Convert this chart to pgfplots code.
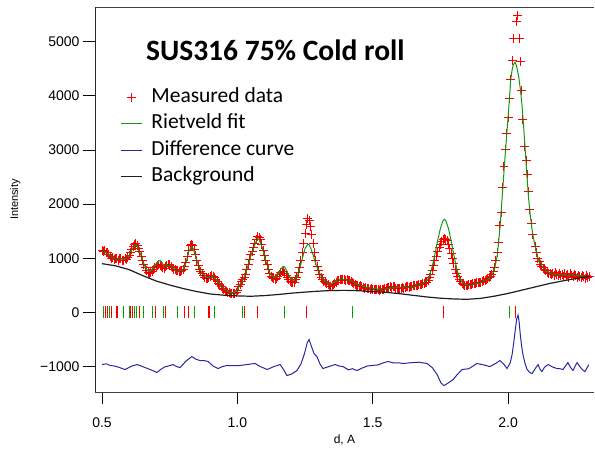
\documentclass[border=0pt]{standalone}
\usepackage{pgfplots}
\pgfplotsset{compat=1.18}
\usepackage{fontspec}
\setmainfont{Liberation Sans}
\newfontfamily\calibri{Carlito}
\definecolor{measred}{RGB}{255,0,0}
\definecolor{fitgreen}{RGB}{20,150,20}
\definecolor{tickgreen}{RGB}{0,170,0}
\definecolor{diffblue}{RGB}{40,40,160}
\definecolor{bgblack}{RGB}{30,30,30}
\begin{document}
\begin{tikzpicture}
\begin{axis}[
  at={(0,0)}, anchor=south west,
  scale only axis, width=499pt, height=385pt,
  xmin=0.474, xmax=2.3175, ymin=-1470, ymax=5640,
  axis x line*=box, axis y line*=left,
  x axis line style={-, line width=0.9pt, black!75},
  y axis line style={-, line width=0.9pt, black!85},
  xtick pos=bottom, ytick pos=left,
  tick align=outside, major tick length=12pt,
  tick style={black, line width=0.9pt},
  xtick={0.5,1.0,1.5,2.0}, xticklabels={0.5,1.0,1.5,2.0},
  ytick={-1000,0,1000,2000,3000,4000,5000},
  yticklabels={−1000,0,1000,2000,3000,4000,5000},
  tick label style={font=\fontsize{14}{16}\selectfont},
  xticklabel style={yshift=-10pt},
  xlabel={d, A}, ylabel={Intensity},
  xlabel style={at={(axis description cs:0.5,-0.125)}, anchor=center, font=\fontsize{12}{14}\selectfont},
  ylabel style={at={(axis description cs:-0.16,0.5)}, anchor=center, font=\fontsize{11}{13}\selectfont},
  legend style={at={(axis description cs:0.044,0.797)}, anchor=north west, draw=none, fill=none,
    font=\calibri\fontsize{21.5}{24}\selectfont, row sep=6.5pt,
    nodes={inner sep=1pt, text height=14pt, text depth=4pt},
    /tikz/every odd column/.append style={column sep=8pt}},
  legend cell align=left,
  legend image code/.code={\draw[#1] (0cm,0cm) -- (0.74cm,0cm);},
]
\addplot[only marks, mark=*, mark size=0.15pt, mark options={line width=0.1pt},
  legend image code/.code={\fill (0.37cm,0cm) circle (0.15pt); \draw[measred, line width=1pt] (0.37cm-4.5pt,0cm)--(0.37cm+4.5pt,0cm) (0.37cm,-4.5pt)--(0.37cm,4.5pt);},
  error bars/.cd, x dir=both, x fixed=0.0166, y dir=both, y fixed=83, error mark=none,
  error bar style={line width=1pt, measred}]
  coordinates {
(0.500,1150)(0.505,1120)(0.510,1140)(0.515,1100)(0.520,1110)(0.525,1060)(0.530,1030)(0.535,1000)(0.540,1010)(0.545,970)
(0.550,990)(0.555,1000)(0.560,960)(0.565,990)(0.570,1000)(0.575,960)(0.580,950)(0.585,990)(0.590,980)(0.595,1010)
(0.600,1050)(0.605,1100)(0.610,1170)(0.615,1220)(0.620,1250)(0.625,1270)(0.630,1230)(0.635,1180)(0.640,1120)(0.645,1040)
(0.650,960)(0.655,880)(0.660,820)(0.665,770)(0.670,740)(0.675,720)(0.680,730)(0.685,760)(0.690,790)(0.695,830)
(0.700,850)(0.705,870)(0.710,880)(0.715,860)(0.720,840)(0.725,820)(0.730,810)(0.735,840)(0.740,860)(0.745,890)
(0.750,880)(0.755,850)(0.760,820)(0.765,800)(0.770,790)(0.775,770)(0.780,770)(0.785,760)(0.790,760)(0.795,770)
(0.800,790)(0.805,840)(0.810,920)(0.815,1030)(0.820,1150)(0.825,1230)(0.830,1260)(0.835,1240)(0.840,1160)(0.845,1060)
(0.850,960)(0.855,870)(0.860,800)(0.865,750)(0.870,720)(0.875,680)(0.880,650)(0.885,630)(0.890,630)(0.895,650)
(0.900,660)(0.905,680)(0.910,670)(0.915,640)(0.920,600)(0.925,570)(0.930,540)(0.935,510)(0.940,480)(0.945,450)
(0.950,430)(0.955,410)(0.960,390)(0.965,370)(0.970,360)(0.975,350)(0.980,345)(0.985,350)(0.990,355)(0.995,370)
(1.000,410)(1.005,470)(1.010,520)(1.015,570)(1.020,600)(1.025,640)(1.030,700)(1.035,790)(1.040,890)(1.045,980)
(1.050,1060)(1.055,1130)(1.060,1200)(1.065,1280)(1.070,1350)(1.075,1400)(1.080,1390)(1.085,1340)(1.090,1250)(1.095,1150)
(1.100,1050)(1.105,960)(1.110,880)(1.115,800)(1.120,720)(1.125,670)(1.130,640)(1.135,620)(1.140,610)(1.145,630)
(1.150,660)(1.155,700)(1.160,740)(1.165,760)(1.170,760)(1.175,720)(1.180,680)(1.185,640)(1.190,600)(1.195,570)
(1.200,550)(1.205,545)(1.210,560)(1.215,600)(1.220,650)(1.225,730)(1.230,830)(1.235,960)(1.240,1100)(1.245,1270)
(1.250,1450)(1.255,1620)(1.260,1740)(1.265,1700)(1.270,1580)(1.275,1440)(1.280,1270)(1.285,1100)(1.290,960)(1.295,850)
(1.300,770)(1.305,700)(1.310,650)(1.315,600)(1.320,570)(1.325,550)(1.330,540)(1.335,510)(1.340,480)(1.345,470)
(1.350,490)(1.355,510)(1.360,530)(1.365,560)(1.370,580)(1.375,590)(1.380,600)(1.385,610)(1.390,600)(1.395,600)
(1.400,590)(1.405,600)(1.410,590)(1.415,580)(1.420,570)(1.425,550)(1.430,530)(1.435,510)(1.440,500)(1.445,490)
(1.450,480)(1.455,490)(1.460,480)(1.465,460)(1.470,450)(1.475,460)(1.480,450)(1.485,440)(1.490,430)(1.495,440)
(1.500,430)(1.505,420)(1.510,430)(1.515,420)(1.520,420)(1.525,410)(1.530,420)(1.535,430)(1.540,420)(1.545,440)
(1.550,450)(1.555,460)(1.560,460)(1.565,470)(1.570,460)(1.575,470)(1.580,470)(1.585,450)(1.590,440)(1.595,440)
(1.600,440)(1.605,450)(1.610,460)(1.615,450)(1.620,460)(1.625,470)(1.630,470)(1.635,460)(1.640,480)(1.645,480)
(1.650,490)(1.655,500)(1.660,500)(1.665,490)(1.670,510)(1.675,510)(1.680,520)(1.685,530)(1.690,540)(1.695,550)
(1.700,560)(1.705,590)(1.710,640)(1.715,700)(1.720,780)(1.725,860)(1.730,950)(1.735,1040)(1.740,1130)(1.745,1200)
(1.750,1260)(1.755,1310)(1.760,1340)(1.765,1370)(1.770,1350)(1.775,1320)(1.780,1250)(1.785,1180)(1.790,1090)(1.795,1000)
(1.800,900)(1.805,800)(1.810,720)(1.815,660)(1.820,610)(1.825,570)(1.830,540)(1.835,520)(1.840,500)(1.845,490)
(1.850,500)(1.855,510)(1.860,520)(1.865,520)(1.870,530)(1.875,530)(1.880,540)(1.885,550)(1.890,550)(1.895,560)
(1.900,560)(1.905,570)(1.910,580)(1.915,590)(1.920,610)(1.925,620)(1.930,640)(1.935,660)(1.940,700)(1.945,760)
(1.950,830)(1.955,950)(1.960,1100)(1.965,1300)(1.970,1600)(1.975,1850)(1.980,2300)(1.985,2700)(1.990,3000)(1.995,3300)
(2.000,3600)(2.004,3950)(2.009,4300)(2.015,4650)(2.020,5060)(2.031,5370)(2.034,5480)(2.042,5060)(2.046,4630)(2.051,4100)
(2.055,3570)(2.062,3070)(2.067,2800)(2.071,2550)(2.075,2240)(2.080,1900)(2.086,1650)(2.092,1440)(2.100,1220)(2.105,1100)
(2.110,1000)(2.115,940)(2.120,890)(2.125,850)(2.130,820)(2.135,800)(2.140,770)(2.145,740)(2.150,720)(2.155,710)
(2.160,700)(2.165,720)(2.170,690)(2.175,740)(2.180,700)(2.185,680)(2.190,720)(2.195,690)(2.200,700)(2.205,670)
(2.210,720)(2.215,680)(2.220,700)(2.225,650)(2.230,720)(2.235,680)(2.240,660)(2.245,700)(2.250,690)(2.255,650)
(2.260,690)(2.265,670)(2.270,640)(2.275,680)(2.280,660)(2.285,620)(2.290,680)(2.295,640)(2.300,660)
};
\addlegendentry{Measured data}
\addplot[fitgreen, line width=1pt] coordinates {
(0.50,1130)(0.51,1110)(0.52,1090)(0.53,1040)(0.54,1010)(0.55,990)(0.56,985)(0.57,990)(0.58,975)(0.59,990)
(0.60,1050)(0.61,1160)(0.62,1240)(0.625,1250)(0.63,1220)(0.64,1110)(0.65,960)(0.66,830)(0.67,760)(0.68,760)
(0.69,820)(0.70,900)(0.71,950)(0.715,960)(0.72,930)(0.73,850)(0.74,870)(0.75,880)(0.76,830)(0.77,790)
(0.78,770)(0.79,760)(0.80,790)(0.81,910)(0.82,1120)(0.83,1210)(0.835,1200)(0.84,1130)(0.85,960)(0.86,810)
(0.87,720)(0.88,660)(0.89,640)(0.90,660)(0.91,670)(0.92,610)(0.93,550)(0.94,490)(0.95,440)(0.96,400)
(0.97,370)(0.98,360)(0.99,370)(1.00,410)(1.01,520)(1.02,600)(1.03,700)(1.04,880)(1.05,1050)(1.06,1190)
(1.07,1320)(1.075,1360)(1.08,1350)(1.09,1230)(1.10,1040)(1.11,870)(1.12,720)(1.13,650)(1.14,640)(1.15,700)
(1.16,800)(1.17,850)(1.175,840)(1.18,790)(1.19,690)(1.20,610)(1.21,590)(1.22,650)(1.23,800)(1.24,1000)
(1.25,1180)(1.26,1260)(1.265,1250)(1.27,1200)(1.28,1060)(1.29,890)(1.30,760)(1.31,660)(1.32,590)(1.33,550)
(1.34,520)(1.35,530)(1.36,560)(1.37,590)(1.38,610)(1.39,610)(1.40,600)(1.42,580)(1.44,520)(1.46,490)
(1.48,460)(1.50,440)(1.52,430)(1.54,430)(1.56,450)(1.58,460)(1.60,450)(1.62,460)(1.64,475)(1.66,495)
(1.68,520)(1.70,580)(1.71,680)(1.72,850)(1.73,1080)(1.74,1330)(1.75,1550)(1.76,1700)(1.765,1720)(1.77,1690)
(1.78,1550)(1.79,1310)(1.80,1050)(1.81,820)(1.82,650)(1.83,560)(1.84,510)(1.85,500)(1.86,510)(1.88,530)
(1.90,555)(1.92,600)(1.93,630)(1.94,690)(1.95,800)(1.96,1050)(1.97,1550)(1.98,2250)(1.99,2950)(2.00,3600)
(2.005,3950)(2.01,4300)(2.015,4480)(2.02,4580)(2.026,4620)(2.032,4540)(2.04,4330)(2.046,4100)(2.052,3800)(2.058,3400)
(2.064,2950)(2.07,2500)(2.076,2100)(2.082,1800)(2.09,1480)(2.10,1220)(2.11,1010)(2.12,890)(2.13,820)(2.14,770)
(2.15,730)(2.16,710)(2.18,700)(2.20,695)(2.22,690)(2.24,685)(2.26,680)(2.28,670)(2.30,665)
};
\addlegendentry{Rietveld fit}
\addplot[diffblue, line width=1pt] coordinates {
(0.500,-963)(0.515,-950)(0.530,-980)(0.545,-990)(0.560,-1010)(0.585,-1055)(0.610,-990)(0.629,-963)(0.645,-990)(0.665,-1030)
(0.685,-1070)(0.703,-1110)(0.715,-1060)(0.730,-1010)(0.745,-990)(0.762,-963)(0.775,-1000)(0.788,-1020)(0.810,-900)(0.832,-815)
(0.845,-860)(0.862,-890)(0.877,-890)(0.892,-907)(0.910,-990)(0.929,-1037)(0.945,-1000)(0.962,-980)(0.985,-985)(1.010,-980)
(1.040,-960)(1.065,-944)(1.085,-1000)(1.110,-1055)(1.135,-1000)(1.158,-963)(1.170,-1050)(1.183,-1167)(1.200,-1140)(1.220,-1074)
(1.235,-950)(1.248,-760)(1.258,-560)(1.265,-500)(1.273,-620)(1.283,-760)(1.294,-815)(1.305,-950)(1.316,-1037)(1.338,-1000)
(1.361,-963)(1.376,-990)(1.390,-1000)(1.410,-1060)(1.425,-1040)(1.442,-1074)(1.460,-1030)(1.480,-990)(1.497,-980)(1.520,-970)
(1.540,-930)(1.557,-907)(1.575,-930)(1.595,-930)(1.612,-944)(1.640,-930)(1.670,-920)(1.701,-944)(1.720,-1020)(1.738,-1148)
(1.752,-1300)(1.763,-1352)(1.780,-1300)(1.797,-1240)(1.812,-1150)(1.830,-1055)(1.855,-1040)(1.885,-944)(1.910,-970)(1.933,-1000)
(1.955,-940)(1.970,-890)(1.985,-960)(1.996,-1037)(2.008,-930)(2.015,-778)(2.021,-560)(2.026,-350)(2.032,-120)(2.037,-50)
(2.041,-180)(2.045,-400)(2.050,-620)(2.055,-778)(2.062,-930)(2.070,-1050)(2.080,-1110)(2.089,-1130)(2.100,-1040)(2.111,-963)
(2.118,-1050)(2.125,-1093)(2.135,-1010)(2.148,-963)(2.165,-1010)(2.181,-1037)(2.192,-1040)(2.203,-1055)(2.212,-990)(2.221,-926)
(2.230,-1010)(2.240,-1074)(2.248,-990)(2.255,-926)(2.265,-1000)(2.275,-1060)(2.284,-1093)(2.292,-1020)(2.299,-963)
};
\addlegendentry{Difference curve}
\addplot[bgblack, line width=1.2pt] coordinates {
(0.50,900)(0.55,860)(0.60,790)(0.65,680)(0.70,580)(0.75,505)(0.80,440)(0.85,385)(0.90,340)(0.95,318)
(1.00,305)(1.05,298)(1.10,310)(1.15,330)(1.20,355)(1.25,375)(1.30,392)(1.35,405)(1.40,407)(1.45,400)
(1.50,385)(1.55,370)(1.60,345)(1.65,315)(1.70,285)(1.75,262)(1.80,248)(1.85,242)(1.90,260)(1.95,300)
(2.00,350)(2.05,410)(2.10,470)(2.15,530)(2.20,580)(2.25,625)(2.30,665)
};
\addlegendentry{Background}
\addplot[only marks, mark=*, mark size=0.15pt, mark options={line width=0.1pt}, forget plot,
  error bars/.cd, y dir=both, y fixed=110, error mark=none,
  error bar style={line width=1.1pt, tickgreen}] coordinates {
(0.507,0)(0.527,0)(0.579,0)(0.601,0)(0.619,0)(0.628,0)(0.653,0)(0.687,0)(0.726,0)(0.778,0)
(0.840,0)(0.915,0)(1.020,0)(1.173,0)(1.426,0)(2.004,0)
};
\addplot[only marks, mark=*, mark size=0.15pt, mark options={line width=0.1pt}, forget plot,
  error bars/.cd, y dir=both, y fixed=110, error mark=none,
  error bar style={line width=1.1pt, measred}] coordinates {
(0.514,0)(0.521,0)(0.536,0)(0.552,0)(0.558,0)(0.606,0)(0.612,0)(0.640,0)(0.697,0)(0.736,0)
(0.804,0)(0.821,0)(0.895,0)(1.025,0)(1.075,0)(1.254,0)(1.761,0)(2.029,0)
};
\node[anchor=base west, font=\calibri\bfseries\fontsize{29.5}{33}\selectfont, inner sep=0pt]
  at (rel axis cs:0.102,0.862) {SUS316 75\% Cold roll};
\end{axis}
\pgfresetboundingbox
\path[use as bounding box] (-95pt,-60pt) rectangle (500pt,392pt);
\end{tikzpicture}
\end{document}
